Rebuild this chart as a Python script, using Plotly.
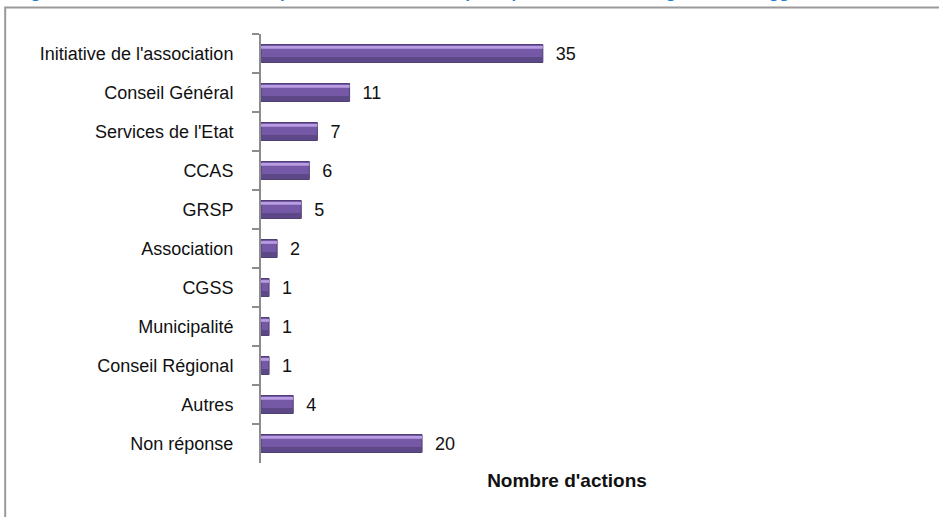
import plotly.graph_objects as go

categories = ["Initiative de l'association", "Conseil Général", "Services de l'Etat", "CCAS",
              "GRSP", "Association", "CGSS", "Municipalité", "Conseil Régional", "Autres", "Non réponse"]
values = [35, 11, 7, 6, 5, 2, 1, 1, 1, 4, 20]
title_text = ("Origine de la décision de mise en place des actions : les principaux acteurs à l'origine "
              "de la suggestion des actions menées par l'association")
x_title = "Nombre d'actions"

FONT = "Liberation Sans Narrow, Arial Narrow, Liberation Sans, Arial, sans-serif"

fig = go.Figure()
# main bar body
fig.add_trace(go.Bar(
    y=categories, x=values, orientation="h", width=0.46,
    marker=dict(color="#7559A6", line=dict(color="#4E3D72", width=1)),
    text=["  " + str(v) for v in values], textposition="outside", constraintext="none",
    textfont=dict(family=FONT, size=18, color="#111111"),
    cliponaxis=False, hoverinfo="x+y", showlegend=False,
))
# light highlight stripe on the upper part of each bar
fig.add_trace(go.Bar(
    y=categories, x=values, orientation="h", width=0.07, offset=-0.19,
    marker=dict(color="#B89DE2", line=dict(width=0)),
    hoverinfo="skip", showlegend=False,
))
# darker shade on the lower part of each bar
fig.add_trace(go.Bar(
    y=categories, x=values, orientation="h", width=0.13, offset=0.09,
    marker=dict(color="#5C4886", line=dict(width=0)),
    hoverinfo="skip", showlegend=False,
))

fig.update_layout(
    width=939, height=517,
    margin=dict(l=261, r=66, t=34, b=54),
    paper_bgcolor="white", plot_bgcolor="white",
    barmode="overlay",
    font=dict(family=FONT, size=18, color="#111111"),
    xaxis=dict(range=[0, 76], showticklabels=False, showgrid=False, zeroline=False,
               showline=False, ticks="",
               title=dict(text="<b>" + x_title + "</b>", font=dict(family=FONT, size=19, color="#111111"),
                          standoff=10)),
    yaxis=dict(autorange="reversed", showgrid=False, zeroline=False,
               showline=True, linecolor="#8C8C8C", linewidth=2,
               ticks="outside", ticklen=7, tickcolor="#8C8C8C", tickwidth=2,
               tickson="boundaries", ticklabelstandoff=22,
               tickfont=dict(family=FONT, size=18, color="#111111")),
    shapes=[dict(type="rect", xref="paper", yref="paper",
                 x0=-0.418, x1=1.2, y0=-0.15, y1=1.062,
                 line=dict(color="#9A9A9A", width=2), fillcolor="rgba(0,0,0,0)", layer="below")],
    annotations=[dict(text="<b>" + title_text + "</b>", xref="paper", yref="paper",
                      x=-0.42, y=1.069, xanchor="left", yanchor="bottom", showarrow=False,
                      font=dict(family="Liberation Sans, Arial, sans-serif", size=17, color="#1F7FD0"))],
)

fig.write_html("out.html")
